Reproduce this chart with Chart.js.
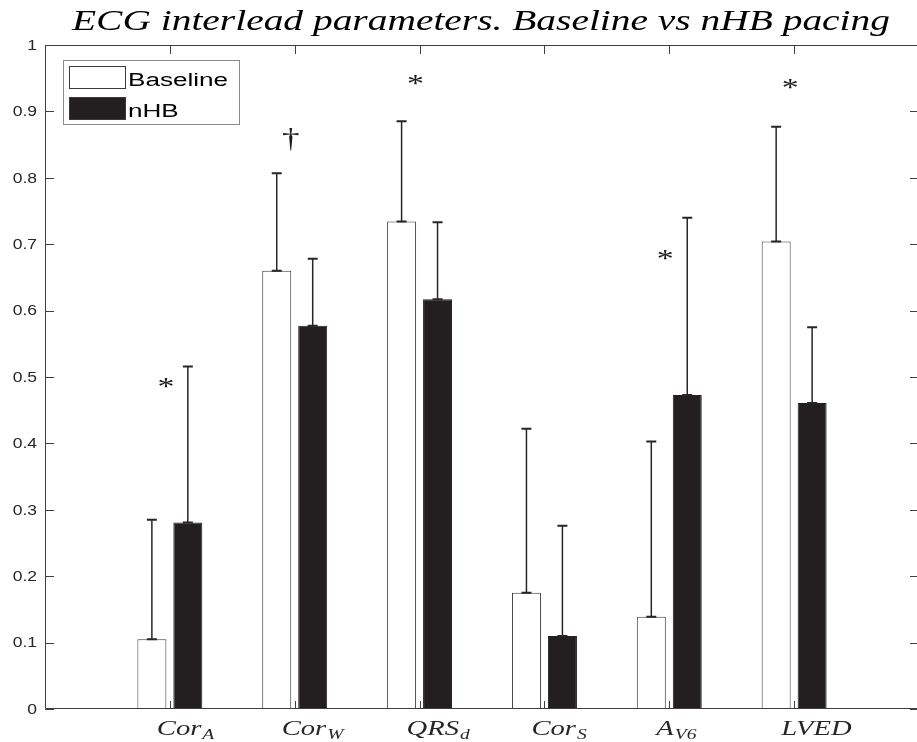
<!DOCTYPE html>
<html>
<head>
<meta charset="utf-8">
<title>ECG interlead parameters</title>
<script src="https://cdn.jsdelivr.net/npm/chart.js@4.4.1/dist/chart.umd.min.js"></script>
<style>
  html, body { margin: 0; padding: 0; background: #fff; overflow: hidden; }
  #wrap { width: 921px; height: 742px; }
</style>
</head>
<body>
<div id="wrap"><canvas id="ecgChart" width="921" height="742"></canvas></div>
<script>
// values (bar height + upper error)
const categories = ['Cor_A', 'Cor_W', 'QRS_d', 'Cor_S', 'A_V6', 'LVED'];
const seriesNames = ['Baseline', 'nHB'];
const baseline = [0.105, 0.660, 0.734, 0.175, 0.139, 0.704];
const baselineSD = [0.180, 0.147, 0.151, 0.247, 0.264, 0.173];
const nhb = [0.281, 0.577, 0.617, 0.110, 0.473, 0.461];
const nhbSD = [0.235, 0.101, 0.116, 0.166, 0.267, 0.114];
const marks = ['*', '\u2020', '*', '', '*', '*'];
const markY = [0.491, 0.858, 0.948, null, 0.684, 0.941];
const yTicks = [0, 0.1, 0.2, 0.3, 0.4, 0.5, 0.6, 0.7, 0.8, 0.9, 1];
const titleText = 'ECG interlead parameters. Baseline vs nHB pacing';

const INK = '#262626';
const DARK = '#231f20';

// padded so the category axis runs from 0 to 7 like the matlab one
const labels = ['', ...categories, ''];
const pad = arr => [null, ...arr, null];

// text in the original is stretched sideways, so draw it scaled
function drawText(ctx, text, x, y, font, sx, align, baseline) {
  ctx.save();
  ctx.font = font;
  ctx.textBaseline = baseline || 'alphabetic';
  const w = ctx.measureText(text).width * sx;
  let x0 = x;
  if (align === 'center') x0 = x - w / 2;
  else if (align === 'right') x0 = x - w;
  ctx.translate(x0, y);
  ctx.scale(sx, 1);
  ctx.textAlign = 'left';
  ctx.fillText(text, 0, 0);
  ctx.restore();
  return w;
}

const errorBars = {
  id: 'errorBars',
  afterDatasetsDraw(chart) {
    const ctx = chart.ctx;
    const yScale = chart.scales.y;
    const sds = [baselineSD, nhbSD];
    chart.data.datasets.forEach((ds, d) => {
      const meta = chart.getDatasetMeta(d);
      sds[d].forEach((sd, i) => {
        const bar = meta.data[i + 1];
        const v = ds.data[i + 1];
        if (!bar || v == null) return;
        const yTop = yScale.getPixelForValue(v + sd);
        const yBase = yScale.getPixelForValue(v);
        ctx.save();
        ctx.strokeStyle = INK;
        ctx.lineWidth = 1.5;
        ctx.beginPath();
        ctx.moveTo(bar.x, yBase);
        ctx.lineTo(bar.x, yTop);
        ctx.stroke();
        ctx.lineWidth = 2;
        ctx.beginPath();
        ctx.moveTo(bar.x - 5, yTop);
        ctx.lineTo(bar.x + 5, yTop);
        ctx.moveTo(bar.x - 5, yBase);
        ctx.lineTo(bar.x + 5, yBase);
        ctx.stroke();
        ctx.restore();
      });
    });
  }
};

const decorations = {
  id: 'decorations',
  afterDraw(chart) {
    const ctx = chart.ctx;
    const { left, right, top, bottom } = chart.chartArea;
    const xScale = chart.scales.x;
    const yScale = chart.scales.y;

    // axes box and inward ticks
    ctx.save();
    ctx.strokeStyle = '#404040';
    ctx.lineWidth = 1;
    ctx.beginPath();
    ctx.moveTo(left + 0.5, top + 0.5);
    ctx.lineTo(right - 0.5, top + 0.5);
    ctx.lineTo(right - 0.5, bottom - 0.5);
    ctx.lineTo(left + 0.5, bottom - 0.5);
    ctx.closePath();
    yTicks.forEach(t => {
      const y = Math.round(yScale.getPixelForValue(t)) + 0.5;
      ctx.moveTo(left, y); ctx.lineTo(left + 9, y);
      ctx.moveTo(right, y); ctx.lineTo(right - 9, y);
    });
    categories.forEach((c, i) => {
      const x = Math.round(xScale.getPixelForValue(i + 1)) + 0.5;
      ctx.moveTo(x, top); ctx.lineTo(x, top + 9);
      ctx.moveTo(x, bottom); ctx.lineTo(x, bottom - 8);
    });
    ctx.stroke();
    ctx.restore();

    ctx.fillStyle = INK;
    // y tick labels
    yTicks.forEach(t => {
      drawText(ctx, String(t), 37, yScale.getPixelForValue(t) + 1,
        '14px "Liberation Sans", Arial, sans-serif', 1.25, 'right', 'middle');
    });

    // x tick labels with subscripts
    categories.forEach((c, i) => {
      const [main, sub] = c.split('_');
      const x = xScale.getPixelForValue(i + 1) - 13;
      const w = drawText(ctx, main, x, 735, 'italic 22px "Liberation Serif", serif', 1.3, 'left');
      if (sub) drawText(ctx, sub, x + w + 1, 739, 'italic 15px "Liberation Serif", serif', 1.3, 'left');
    });

    // significance marks
    marks.forEach((m, i) => {
      if (!m) return;
      const x = xScale.getPixelForValue(i + 1) - 4;
      const y = yScale.getPixelForValue(markY[i]);
      ctx.save();
      ctx.font = (m === '*' ? '26px' : '27px') + ' "Liberation Serif", serif';
      ctx.textAlign = 'center';
      ctx.textBaseline = 'alphabetic';
      const mt = ctx.measureText(m);
      const h = mt.actualBoundingBoxAscent - mt.actualBoundingBoxDescent;
      ctx.translate(x, y + h / 2);
      ctx.scale(1.3, 1);
      ctx.fillStyle = '#1a1a1a';
      ctx.fillText(m, 0, 0);
      ctx.restore();
    });

    // title
    ctx.save();
    ctx.font = 'italic 30px "Liberation Serif", serif';
    const tw = ctx.measureText(titleText).width;
    ctx.restore();
    ctx.fillStyle = '#000';
    drawText(ctx, titleText, 72, 30, 'italic 30px "Liberation Serif", serif', 818 / tw, 'left');

    // legend box
    ctx.save();
    ctx.fillStyle = '#fff';
    ctx.fillRect(63, 60, 176, 64);
    ctx.strokeStyle = '#8a8a8a';
    ctx.lineWidth = 1;
    ctx.strokeRect(63.5, 60.5, 176, 64);
    const ds = chart.data.datasets;
    const rows = [66, 97];
    ds.forEach((d, k) => {
      ctx.fillStyle = d.backgroundColor;
      ctx.fillRect(69, rows[k], 57, 23);
      ctx.strokeStyle = '#3a3a3a';
      ctx.strokeRect(69.5, rows[k] + 0.5, 56, 22);
      ctx.fillStyle = '#000';
      drawText(ctx, d.label, 128, rows[k] + 20, '18px "Liberation Sans", Arial, sans-serif', 1.45, 'left');
    });
    ctx.restore();
  }
};

new Chart(document.getElementById('ecgChart'), {
  type: 'bar',
  data: {
    labels: labels,
    datasets: [
      {
        label: seriesNames[0],
        data: pad(baseline),
        backgroundColor: '#ffffff',
        borderColor: '#3a3a3a',
        borderWidth: 1,
        borderSkipped: false
      },
      {
        label: seriesNames[1],
        data: pad(nhb),
        backgroundColor: DARK,
        borderColor: DARK,
        borderWidth: 1,
        borderSkipped: false
      }
    ]
  },
  options: {
    responsive: false,
    animation: false,
    devicePixelRatio: 1,
    categoryPercentage: 0.576,
    barPercentage: 0.806,
    layout: { padding: { left: 45, top: 45, right: 2, bottom: 33 } },
    plugins: {
      legend: { display: false },
      title: { display: false },
      tooltip: { enabled: false }
    },
    scales: {
      x: { display: false, offset: false },
      y: { display: false, min: 0, max: 1 }
    }
  },
  plugins: [errorBars, decorations]
});
</script>
</body>
</html>
